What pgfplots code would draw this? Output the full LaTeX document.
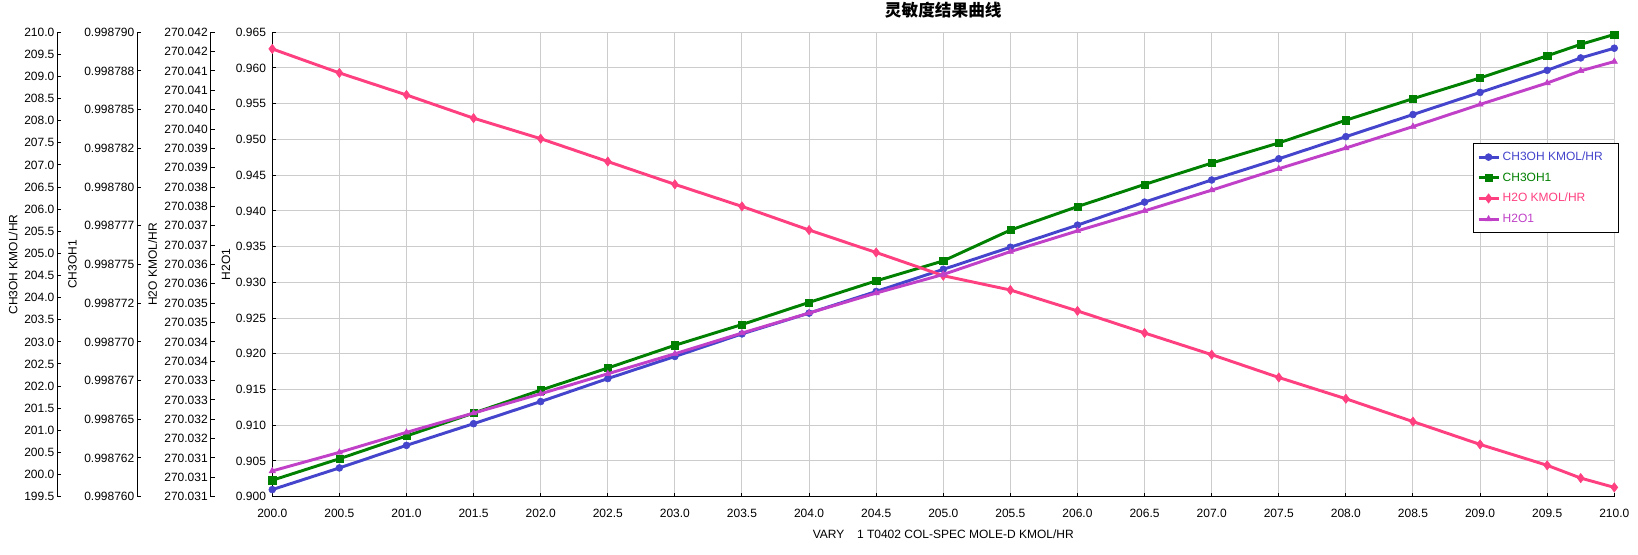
\documentclass[border=0pt]{standalone}
\usepackage{fontspec}
\setmainfont{Liberation Sans}
\newfontfamily\cjk{Noto Sans CJK SC}
\usepackage{pgfplots}
\pgfplotsset{compat=1.18}
\usepackage{pgfplotstable}

\definecolor{cblue}{RGB}{68,68,204}
\definecolor{cgreen}{RGB}{0,128,0}
\definecolor{cpink}{RGB}{255,64,128}
\definecolor{cmag}{RGB}{192,64,200}

% CH3OH KMOL/HR
\pgfplotstableread{
x y
200.0 199.66
200.5 200.15
201.0 200.66
201.5 201.15
202.0 201.65
202.5 202.17
203.0 202.67
203.5 203.18
204.0 203.65
204.5 204.14
205.0 204.64
205.5 205.14
206.0 205.64
206.5 206.16
207.0 206.66
207.5 207.14
208.0 207.64
208.5 208.14
209.0 208.64
209.5 209.14
209.75 209.42
210.0 209.64
}\tblA
% CH3OH1, given as (value - 0.998) x 10^6  (e.g. 761.06 = 0.99876106)
\pgfplotstableread{
x y
200.0 761.06
200.5 762.45
201.0 763.92
201.5 765.40
202.0 766.88
202.5 768.31
203.0 769.78
203.5 771.12
204.0 772.55
204.5 773.94
205.0 775.23
205.5 777.22
206.0 778.74
206.5 780.17
207.0 781.55
207.5 782.85
208.0 784.32
208.5 785.71
209.0 787.05
209.5 788.48
209.75 789.22
210.0 789.86
}\tblB
% H2O KMOL/HR, given as (value - 270) x 1000  (e.g. 42.07 = 270.04207)
\pgfplotstableread{
x y
200.0 42.07
200.5 41.45
201.0 40.88
201.5 40.28
202.0 39.75
202.5 39.16
203.0 38.57
203.5 38.00
204.0 37.39
204.5 36.81
205.0 36.21
205.5 35.84
206.0 35.30
206.5 34.73
207.0 34.17
207.5 33.58
208.0 33.03
208.5 32.44
209.0 31.85
209.5 31.31
209.75 30.98
210.0 30.74
}\tblC
% H2O1
\pgfplotstableread{
x y
200.0 0.9036
200.5 0.9062
201.0 0.9090
201.5 0.9117
202.0 0.9144
202.5 0.9172
203.0 0.9200
203.5 0.9229
204.0 0.9257
204.5 0.9285
205.0 0.9311
205.5 0.9343
206.0 0.9372
206.5 0.9400
207.0 0.9429
207.5 0.9459
208.0 0.9488
208.5 0.9518
209.0 0.9549
209.5 0.9579
209.75 0.9596
210.0 0.9609
}\tblD

\pgfplotsset{
  /pgf/number format/assume math mode=true,
  base/.style={scale only axis, width=1006.5pt, height=348.3pt, anchor=south west,
    xmin=200, xmax=210},
  hid/.style={base, hide axis, clip=false, at={(0,0)}},
  scl/.style={scale only axis, width=1pt, height=348.3pt, anchor=south west,
    xmin=0, xmax=1, axis x line=none, axis y line*=left, xtick=\empty,
    axis line style={black, line width=0.8pt},
    tick align=inside, major tick length=3pt, tick style={black, line width=0.75pt},
    yticklabel style={inner sep=2pt}},
  sA/.style={color=cblue, line width=2.2pt, mark=*, mark size=2.6pt, mark options={solid, line width=0.4pt}},
  sB/.style={color=cgreen, line width=2.2pt, mark=square*, mark size=2.7pt, mark options={solid, line width=0.4pt}},
  sC/.style={color=cpink, line width=2.2pt, mark=diamond*, mark size=3.5pt, mark options={solid, line width=0.4pt}},
  sD/.style={color=cmag, line width=2.2pt, mark=triangle*, mark size=2.7pt, mark options={solid, line width=0.4pt}},
}

\begin{document}
\fontsize{9}{11}\selectfont
\begin{tikzpicture}
% main axis: grid, H2O1 scale, x axis, title, legend
\begin{axis}[base, at={(0,0)},
  ymin=0.900, ymax=0.965,
  axis lines*=left, axis line style={black, line width=0.8pt},
  grid=major, major grid style={color=black!20, line width=0.75pt},
  tick align=inside, major tick length=3pt, tick style={black, line width=0.75pt},
  xtick={200,200.5,...,210},
  ytick={0.900,0.905,0.910,0.915,0.920,0.925,0.930,0.935,0.940,0.945,0.950,0.955,0.960,0.965},
  xticklabel style={/pgf/number format/fixed, /pgf/number format/fixed zerofill, /pgf/number format/precision=1, yshift=-6.5pt},
  yticklabel style={/pgf/number format/fixed, /pgf/number format/fixed zerofill, /pgf/number format/precision=3, inner sep=2pt, xshift=-2.5pt},
  xlabel={VARY\hspace{9.5pt}1 T0402 COL-SPEC MOLE-D KMOL/HR},
  xlabel style={at={(axis description cs:0.5,0)}, anchor=base, yshift=-31.2pt},
  ylabel={H2O1},
  ylabel style={at={([xshift=-34.7pt]axis description cs:0,0.5)}, anchor=center},
  title={\cjk\bfseries 灵敏度结果曲线},
  title style={at={(axis description cs:0.5,1)}, anchor=center, yshift=10.4pt, font=\fontsize{12.5}{14}\selectfont},
  legend cell align=left,
  legend image code/.code={\draw[mark repeat=2,mark phase=2,#1] plot coordinates {(0pt,0pt) (7.5pt,0pt) (15pt,0pt)};},
  legend style={at={(0.8949,0.7623)}, anchor=north west, draw=black, line width=0.8pt, fill=white,
    inner xsep=2.5pt, inner ysep=4.5pt, row sep=3.75pt, font=\fontsize{9}{11}\selectfont},
]
\addlegendimage{sA}
\addlegendentry{\textcolor{cblue}{CH3OH KMOL/HR}\rule{7pt}{0pt}}
\addlegendimage{sB}
\addlegendentry{\textcolor{cgreen}{CH3OH1}}
\addlegendimage{sC}
\addlegendentry{\textcolor{cpink}{H2O KMOL/HR}}
\addlegendimage{sD}
\addlegendentry{\textcolor{cmag}{H2O1}}
\end{axis}

% left scale axes
\begin{axis}[scl, at={(-161.25pt,0)}, ymin=199.5, ymax=210,
  ytick={199.5,200,...,210},
  yticklabel style={/pgf/number format/fixed, /pgf/number format/fixed zerofill, /pgf/number format/precision=1},
  ylabel={CH3OH KMOL/HR},
  ylabel style={at={([xshift=-33.2pt]axis description cs:0,0.5)}, anchor=center}]
\end{axis}
\begin{axis}[scl, at={(-101.25pt,0)}, ymin=760, ymax=790,
  ytick={760,762.5,765,767.5,770,772.5,775,777.5,780,782.5,785,787.5,790},
  yticklabels={0.998760,0.998762,0.998765,0.998767,0.998770,0.998772,0.998775,0.998777,0.998780,0.998782,0.998785,0.998788,0.998790},
  ylabel={CH3OH1},
  ylabel style={at={([xshift=-48.6pt]axis description cs:0,0.5)}, anchor=center}]
\end{axis}
\begin{axis}[scl, at={(-46.2pt,0)}, ymin=30.5, ymax=42.5,
  ytick={30.5,31,...,42.5},
  yticklabels={270.031,270.031,270.031,270.032,270.032,270.033,270.033,270.034,270.034,270.035,270.035,270.036,270.036,270.037,270.037,270.038,270.038,270.039,270.039,270.040,270.040,270.041,270.041,270.042,270.042},
  ylabel={H2O KMOL/HR},
  ylabel style={at={([xshift=-43.6pt]axis description cs:0,0.5)}, anchor=center}]
\end{axis}

% series, each on its own scale
\begin{axis}[hid, ymin=199.5, ymax=210]
\addplot[sA] table[x=x,y=y]{\tblA};
\end{axis}
\begin{axis}[hid, ymin=760, ymax=790]
\addplot[sB] table[x=x,y=y]{\tblB};
\end{axis}
\begin{axis}[hid, ymin=30.5, ymax=42.5]
\addplot[sC] table[x=x,y=y]{\tblC};
\end{axis}
\begin{axis}[hid, ymin=0.900, ymax=0.965]
\addplot[sD] table[x=x,y=y]{\tblD};
\end{axis}

\pgfresetboundingbox
\path (-204.2pt,-43.7pt) rectangle (1024.3pt,372.5pt);
\end{tikzpicture}
\end{document}
